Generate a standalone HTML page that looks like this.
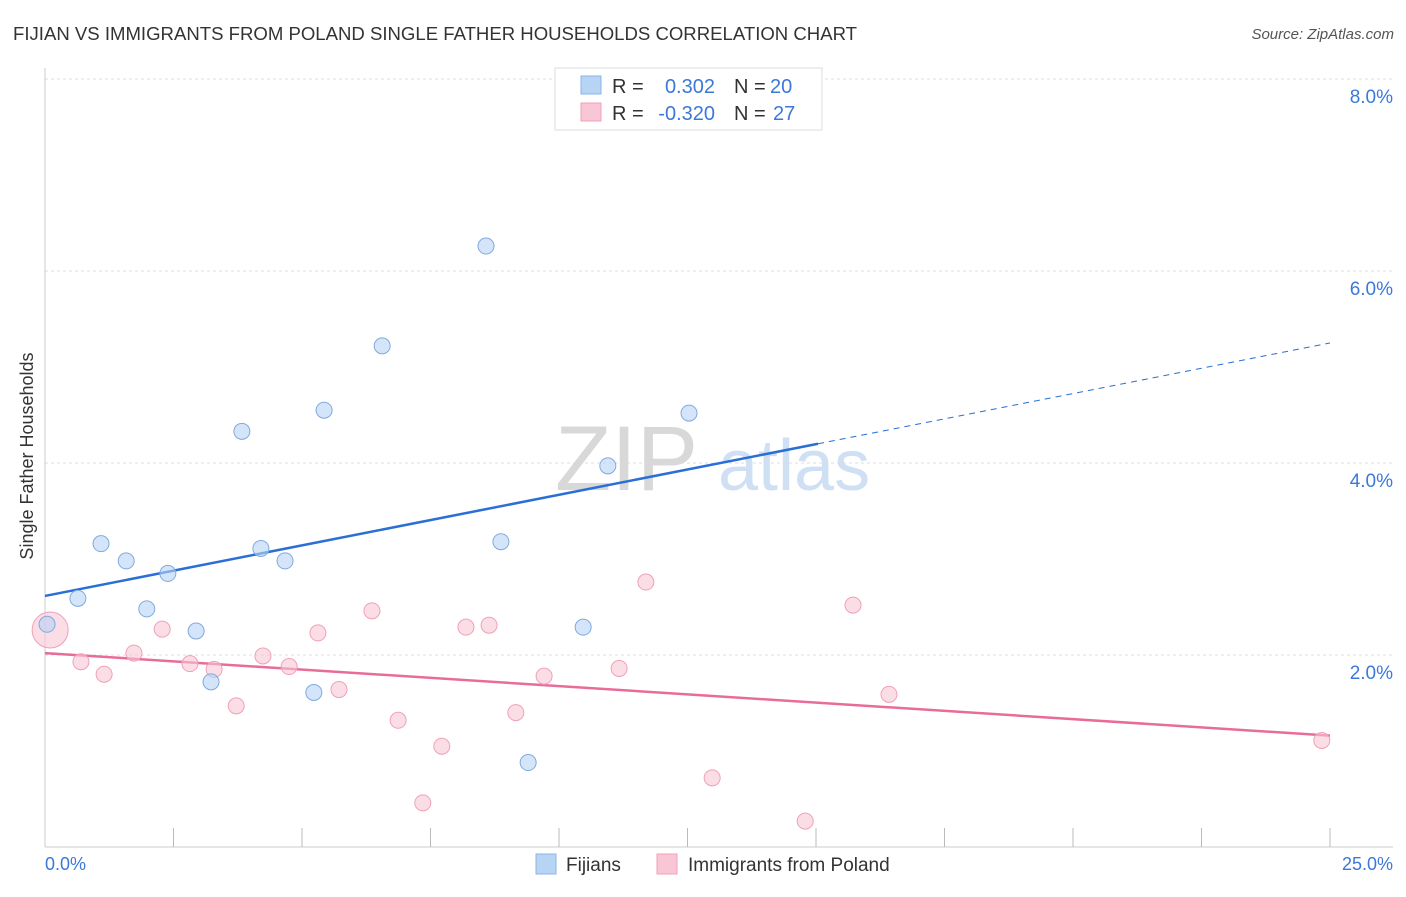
<!DOCTYPE html>
<html><head><meta charset="utf-8"><style>
body{margin:0;background:#fff;font-family:"Liberation Sans",sans-serif;}
svg text{font-family:"Liberation Sans",sans-serif;}
</style></head><body>
<svg width="1406" height="892">
<text x="13" y="40" font-size="18" fill="#333" textLength="844" lengthAdjust="spacingAndGlyphs">FIJIAN VS IMMIGRANTS FROM POLAND SINGLE FATHER HOUSEHOLDS CORRELATION CHART</text>
<text x="1394" y="39" font-size="15" fill="#555" font-style="italic" text-anchor="end">Source: ZipAtlas.com</text>
<g id="grid"></g>
<g><text x="555" y="490" font-size="92" fill="#d8d8d8" font-family="Liberation Serif,serif">ZIP</text><text x="718" y="490" font-size="72" fill="#cfe0f5">atlas</text></g>
<line x1="45" y1="68" x2="45" y2="847" stroke="#ccc"/>
<line x1="45" y1="847" x2="1393" y2="847" stroke="#ccc"/>
<g id="ticks"></g>
<text x="33" y="456" font-size="18" fill="#333" transform="rotate(-90 33 456)" text-anchor="middle">Single Father Households</text>
<text x="45" y="870" font-size="18" fill="#3b78d8">0.0%</text>
<text x="1393" y="870" font-size="18" fill="#3b78d8" text-anchor="end">25.0%</text>
<g id="lines"></g>
<g id="pts"></g>
<g>
<rect x="555" y="68" width="267" height="62" fill="#fff" stroke="#ddd"/>
<rect x="581" y="76" width="20" height="18" fill="#b8d4f5" stroke="#8ab4e8"/>
<rect x="581" y="103" width="20" height="18" fill="#f9c6d6" stroke="#f0a0b8"/>
<text x="612" y="93" font-size="20" fill="#333">R =</text>
<text x="715" y="93" font-size="20" fill="#3b78d8" text-anchor="end">0.302</text>
<text x="734" y="93" font-size="20" fill="#333">N =</text>
<text x="770" y="93" font-size="20" fill="#3b78d8">20</text>
<text x="612" y="120" font-size="20" fill="#333">R =</text>
<text x="715" y="120" font-size="20" fill="#3b78d8" text-anchor="end">-0.320</text>
<text x="734" y="120" font-size="20" fill="#333">N =</text>
<text x="773" y="120" font-size="20" fill="#3b78d8">27</text>
</g>
<g>
<rect x="536" y="854" width="20" height="20" fill="#b8d4f5" stroke="#8ab4e8"/>
<text x="566" y="871" font-size="19" fill="#333">Fijians</text>
<rect x="657" y="854" width="20" height="20" fill="#f9c6d6" stroke="#f0a0b8"/>
<text x="688" y="871" font-size="19" fill="#333">Immigrants from Poland</text>
</g>
</svg>
<script>
const yTicks=[2,4,6,8];
const yTickLabels=["2.0%","4.0%","6.0%","8.0%"];
const blueX=[0.04,0.64,1.09,1.58,1.98,2.39,2.94,3.23,3.83,4.20,4.67,5.23,5.43,6.56,8.58,8.87,9.40,10.47,10.95,12.53];
const blueY=[2.32,2.59,3.16,2.98,2.48,2.85,2.25,1.72,4.33,3.11,2.98,1.61,4.55,5.22,6.26,3.18,0.88,2.29,3.97,4.52];
const pinkX=[0.10,0.70,1.15,1.73,2.28,2.82,3.29,3.72,4.24,4.75,5.31,5.72,6.36,6.87,7.35,7.72,8.19,8.64,9.16,9.71,11.17,11.69,12.98,14.79,15.72,16.42,24.84];
const pinkY=[2.26,1.93,1.80,2.02,2.27,1.91,1.85,1.47,1.99,1.88,2.23,1.64,2.46,1.32,0.46,1.05,2.29,2.31,1.40,1.78,1.86,2.76,0.72,0.27,2.52,1.59,1.11];
const blueTrend=[2.615,5.25], blueSolidEnd=15.04;
const pinkTrend=[2.02,1.16];
const X=v=>45+v*51.4, Y=v=>847-v*96;
const NS="http://www.w3.org/2000/svg";
function mk(t,a,p){const e=document.createElementNS(NS,t);for(const k in a)e.setAttribute(k,a[k]);document.getElementById(p).appendChild(e);return e;}
yTicks.forEach((t,i)=>{
 const l=mk('line',{x1:45,x2:1393,y1:Y(t),y2:Y(t),stroke:'#ddd','stroke-dasharray':'3,3'},'grid');
 
 
 const tx=mk('text',{x:1393,y:Y(t)+24,'font-size':19,fill:'#3b78d8','text-anchor':'end'},'grid');
 tx.textContent=yTickLabels[i];
 
 
});
for(let k=1;k<=10;k++){
 const l=mk('line',{x1:45+k*128.5,x2:45+k*128.5,y1:828,y2:847,stroke:'#bbb'},'ticks');
 
 
}
const lineAt=(a,b,x)=>a+(b-a)*x/25;
let l1=mk('line',{x1:X(0),y1:Y(blueTrend[0]),x2:X(blueSolidEnd),y2:Y(lineAt(blueTrend[0],blueTrend[1],blueSolidEnd)),stroke:'#2a6fd6','stroke-width':2.5},'lines');


let l2=mk('line',{x1:X(blueSolidEnd),y1:Y(lineAt(blueTrend[0],blueTrend[1],blueSolidEnd)),x2:X(25),y2:Y(blueTrend[1]),stroke:'#2a6fd6','stroke-width':1,'stroke-dasharray':'6,5'},'lines');


let l3=mk('line',{x1:X(0),y1:Y(pinkTrend[0]),x2:X(25),y2:Y(pinkTrend[1]),stroke:'#e86c9a','stroke-width':2.5},'lines');


pinkX.forEach((x,i)=>{
 const c=mk('circle',{cx:X(x),cy:Y(pinkY[i]),r:i==0?18:8,fill:'#f9c6d6','fill-opacity':0.6,stroke:'#f0a0b8','stroke-width':1},'pts');
 
 
});
blueX.forEach((x,i)=>{
 const c=mk('circle',{cx:X(x),cy:Y(blueY[i]),r:8,fill:'#b8d4f5','fill-opacity':0.6,stroke:'#7fa9e0','stroke-width':1},'pts');
 
 
});
</script>
</body></html>
